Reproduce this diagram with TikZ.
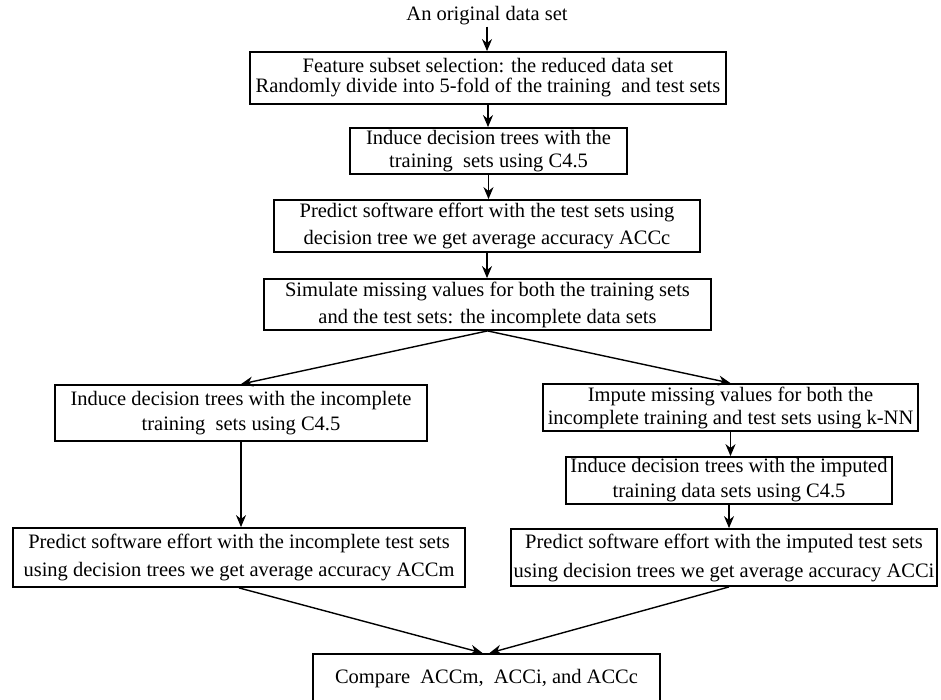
\documentclass[tikz,border=0pt]{standalone}
\usepackage{fontspec}
\setmainfont{Liberation Serif}
\usetikzlibrary{arrows.meta}
\begin{document}
\begin{tikzpicture}[x=1pt, y=-1pt,
  stepbox/.style={draw, line width=1.8pt, align=center, inner sep=0pt},
  lead/.style={font=\fontsize{20.5}{#1}\selectfont},
  arr/.style={line width=1.4pt, -{Stealth[length=12pt, width=10pt]}}]
\useasboundingbox (0,0) rectangle (941,699);
\node[lead=24, inner sep=1pt] (orig) at (487,16) {An original data set};
\node[stepbox, lead=20, minimum width=476pt, minimum height=52pt] (sel) at (488,78)
  {Feature subset selection: the reduced data set\\Randomly divide into 5-fold of the training\ \ and test sets};
\node[stepbox, lead=23, minimum width=277pt, minimum height=46pt] (ind) at (488.5,151)
  {Induce decision trees with the\\training\ \ sets using C4.5};
\node[stepbox, lead=27, minimum width=426pt, minimum height=52pt] (predc) at (487,226)
  {Predict software effort with the test sets using\\decision tree we get average accuracy ACCc};
\node[stepbox, lead=27, minimum width=447pt, minimum height=51pt] (sim) at (487.5,304.5)
  {Simulate missing values for both the training sets\\and the test sets: the incomplete data sets};
\node[stepbox, lead=25, minimum width=372pt, minimum height=56pt] (incl) at (241,413)
  {Induce decision trees with the incomplete\\training\ \ sets using C4.5};
\node[stepbox, lead=23, minimum width=375pt, minimum height=47pt] (imp) at (730.5,407.5)
  {Impute missing values for both the\\incomplete training and test sets using k-NN};
\node[stepbox, lead=25, minimum width=326pt, minimum height=47pt] (indi) at (729,480.5)
  {Induce decision trees with the imputed\\training data sets using C4.5};
\node[stepbox, lead=28, minimum width=452pt, minimum height=59pt] (predm) at (239,557.5)
  {Predict software effort with the incomplete test sets\\using decision trees we get average accuracy ACCm};
\node[stepbox, lead=29, minimum width=426pt, minimum height=57pt] (predi) at (724,557.5)
  {Predict software effort with the imputed test sets\\using decision trees we get average accuracy ACCi};
\node[stepbox, lead=24, anchor=north, minimum width=347pt, minimum height=80pt] (cmp) at (486.5,653)
  {\raisebox{10pt}[0pt][0pt]{Compare\ \ ACCm,\ \ ACCi, and ACCc}};
\draw[arr] (orig.south) -- (orig.south |- sel.north);
\draw[arr] (sel.south) -- (sel.south |- ind.north);
\draw[arr] (ind.south) -- (ind.south |- predc.north);
\draw[arr] (predc.south) -- (predc.south |- sim.north);
\draw[arr] (sim.south) -- (incl.north);
\draw[arr] (sim.south) -- (imp.north);
\draw[arr] (incl.south) -- (incl.south |- predm.north);
\draw[arr] (imp.south) -- (imp.south |- indi.north);
\draw[arr] (indi.south) -- (indi.south |- predi.north);
\draw[arr] (predm.south) -- ([xshift=-4pt]cmp.north);
\draw[arr] ([xshift=5pt]predi.south) -- ([xshift=3pt]cmp.north);
\end{tikzpicture}
\end{document}
